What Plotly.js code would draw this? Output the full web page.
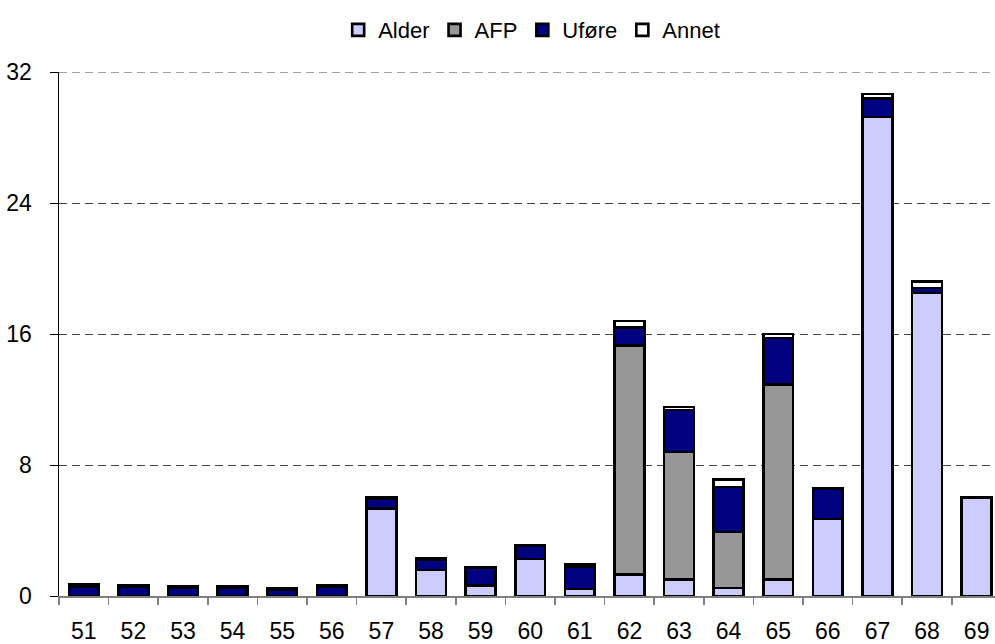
<!DOCTYPE html>
<html>
<head>
<meta charset="utf-8">
<script src="https://cdn.plot.ly/plotly-3.0.1.min.js"></script>
<style>html,body{margin:0;padding:0;background:#fff;}#chart{width:995px;height:644px;}</style>
</head>
<body>
<div id="chart"></div>
<script>
const categories = ["51","52","53","54","55","56","57","58","59","60","61","62","63","64","65","66","67","68","69"];
const alder = [0,0,0,0,0,0,5.35,1.6,0.63,2.25,0.43,1.3,1.0,0.5,1.0,4.7,29.25,18.5,6.0];
const afp   = [0,0,0,0,0,0,0,0,0,0,0,14.0,7.8,3.4,11.9,0,0,0,0];
const ufore = [0.55,0.55,0.5,0.5,0.4,0.55,0.6,0.6,1.1,0.8,1.35,1.1,2.55,2.75,2.85,1.85,1.15,0.3,0];
const annet = [0.15,0.1,0.1,0.1,0.1,0.1,0.1,0.1,0.02,0.05,0.15,0.4,0.2,0.45,0.25,0,0.25,0.4,0];
const yTicks = [0,8,16,24,32];

const names = ["Alder","AFP","Uføre","Annet"];
const series = [alder, afp, ufore, annet];
const colors = ["#CCCCFF","#969696","#000080","#FFFFFF"];

const traces = series.map((vals, i) => ({
  type: "bar",
  name: names[i],
  x: categories,
  y: vals,
  marker: {color: colors[i], line: {color: "#000000", width: 2.6}},
  hoverinfo: "skip"
}));

const yMax = yTicks[yTicks.length - 1];

const layout = {
  width: 995,
  height: 644,
  margin: {l: 59, r: 0, t: 72, b: 47.5, pad: 0},
  paper_bgcolor: "#ffffff",
  plot_bgcolor: "#ffffff",
  font: {family: "Liberation Sans, Arial, sans-serif", size: 23, color: "#000000"},
  barmode: "stack",
  bargap: 0.4,
  showlegend: true,
  legend: {
    orientation: "h",
    x: 0.505, xanchor: "center",
    y: 1.08, yanchor: "middle",
    traceorder: "normal",
    font: {size: 22},
    itemwidth: 30,
    bgcolor: "rgba(0,0,0,0)"
  },
  shapes: [{
    type: "line", xref: "paper", x0: 0, x1: 1, yref: "y", y0: yMax, y1: yMax,
    line: {color: "#444444", width: 1, dash: "8px,5px"}, layer: "below"
  }],
  xaxis: {
    type: "category",
    range: [-0.5, 18.37],
    tickson: "boundaries",
    ticks: "outside",
    ticklen: 7,
    tickcolor: "#808080",
    tickwidth: 1.5,
    showline: true,
    linecolor: "#808080",
    linewidth: 1.5,
    showgrid: false,
    zeroline: false,
    tickfont: {size: 23},
    ticklabelstandoff: 14,
    fixedrange: true
  },
  yaxis: {
    range: [0, yMax],
    tickvals: yTicks,
    ticktext: yTicks.map(String),
    ticks: "outside",
    ticklen: 8,
    tickcolor: "#000000",
    showline: true,
    linecolor: "#000000",
    linewidth: 1.5,
    showgrid: true,
    gridcolor: "#444444",
    gridwidth: 1,
    griddash: "8px,5px",
    zeroline: false,
    tickfont: {size: 23},
    ticklabelstandoff: 13,
    fixedrange: true
  }
};

Plotly.newPlot("chart", traces, layout, {displayModeBar: false, staticPlot: true});
</script>
</body>
</html>
